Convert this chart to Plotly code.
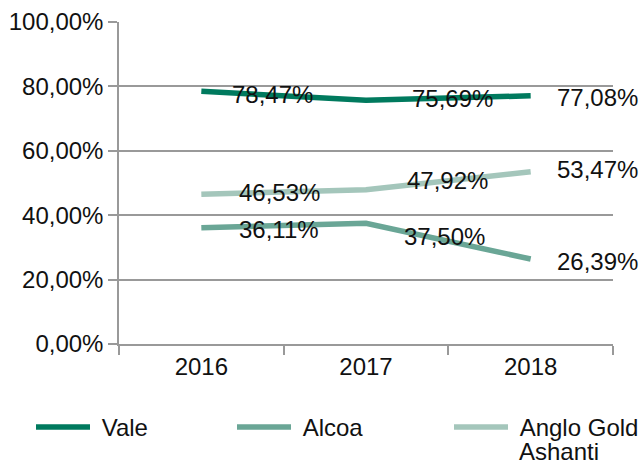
import plotly.graph_objects as go

years = ["2016", "2017", "2018"]
vale = [78.47, 75.69, 77.08]
alcoa = [36.11, 37.50, 26.39]
anglo = [46.53, 47.92, 53.47]
series_names = ["Vale", "Alcoa", "Anglo Gold"]
name_second_line = ["", "", "Ashanti"]
y_ticks = [0, 20, 40, 60, 80, 100]
y_tick_labels = ["0,00%", "20,00%", "40,00%", "60,00%", "80,00%", "100,00%"]

series = [vale, alcoa, anglo]
colors = ["#007a5e", "#6aa696", "#a4c6bb"]
label_dx = [[31, 46, 26], [38, 38, 26], [38, 41, 26]]
label_dy = [[-3, 2, -2], [-2, -13, -2], [2, 9, 2]]
legend_x = [31, 232, 449]

FONT = "Liberation Sans, Arial, Helvetica, sans-serif"
FS = 24
NBSP = "\u00a0"
W, H = 642, 464

fig = go.Figure()
legend_ids = ["legend", "legend2", "legend3"]
for i, (name, vals, col) in enumerate(zip(series_names, series, colors)):
    fig.add_trace(go.Scatter(
        x=years, y=vals, name=NBSP + name, mode="lines",
        line=dict(color=col, width=5.5),
        legend=legend_ids[i],
    ))

annotations = []
for i, vals in enumerate(series):
    for j, v in enumerate(vals):
        annotations.append(dict(
            x=j, y=v, xref="x", yref="y",
            text=f"{v:.2f}".replace(".", ",") + "%",
            showarrow=False, xanchor="left", yanchor="middle",
            xshift=label_dx[i][j] - 2, yshift=label_dy[i][j],
            font=dict(family=FONT, size=FS, color="#111111"),
        ))

# second line of the wrapped legend name
L, R, T, B = 119, 29, 22, 120
pw, ph = W - L - R, H - T - B
for i, extra in enumerate(name_second_line):
    if extra:
        annotations.append(dict(
            text=extra, showarrow=False,
            xref="paper", yref="paper",
            x=(legend_x[i] + 68 - L) / pw, y=(H - B - 451) / ph,
            xanchor="left", yanchor="middle",
            font=dict(family=FONT, size=FS, color="#111111"),
        ))

legend_common = dict(
    orientation="h", xref="container", yref="container",
    yanchor="top", xanchor="left", valign="top",
    font=dict(family=FONT, size=FS, color="#111111"),
    bgcolor="rgba(0,0,0,0)", itemwidth=54,
)
layout_legends = {}
for i, lid in enumerate(legend_ids):
    d = dict(legend_common)
    d["x"] = legend_x[i] / W
    d["y"] = (H - 405) / H
    layout_legends[lid] = d

fig.update_layout(
    width=W, height=H,
    margin=dict(l=L, r=R, t=T, b=B, autoexpand=False),
    paper_bgcolor="white", plot_bgcolor="white",
    font=dict(family=FONT, size=FS, color="#111111"),
    separators=",.",
    annotations=annotations,
    showlegend=True,
    **layout_legends,
)
fig.update_xaxes(
    type="category", range=[-0.5, 2.5], automargin=False,
    showline=True, linecolor="#999999", linewidth=1.5,
    ticks="outside", tickson="boundaries", ticklen=9, tickcolor="#999999", tickwidth=1.5,
    showgrid=False, tickfont=dict(family=FONT, size=FS, color="#111111"),
)
fig.update_yaxes(
    range=[0, 100], tickvals=y_ticks, ticktext=y_tick_labels, automargin=False,
    showline=True, linecolor="#999999", linewidth=1.5,
    ticks="outside", ticklen=9, tickcolor="#999999", tickwidth=1.5,
    showgrid=True, gridcolor="#999999", gridwidth=1.5,
    zeroline=False, tickfont=dict(family=FONT, size=FS, color="#111111"),
)

fig.write_html("out.html", config={"displayModeBar": False},
               post_script="document.body.style.margin='0px';")
